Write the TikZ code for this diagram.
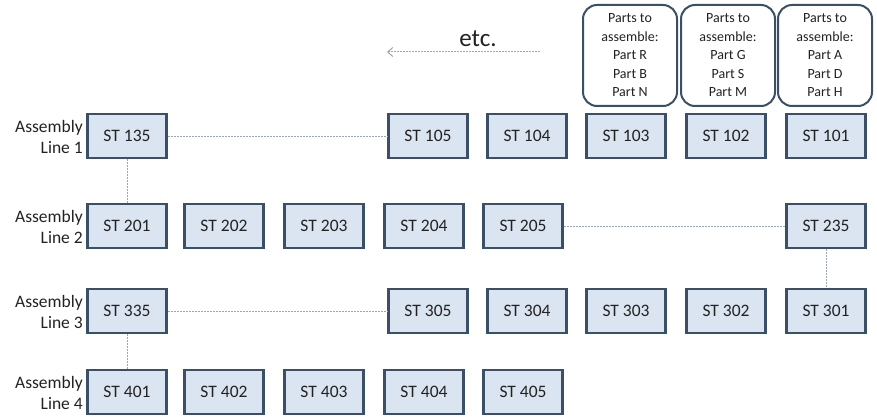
\documentclass[tikz,border=0pt]{standalone}
\usepackage{fontspec}
\setmainfont{Carlito}
\usetikzlibrary{arrows.meta}
\definecolor{boxfill}{HTML}{DBE5F1}
\definecolor{boxdraw}{HTML}{3B4F66}
\definecolor{linkgray}{HTML}{9AA6B6}
\definecolor{txt}{HTML}{222222}
\begin{document}
\begin{tikzpicture}[x=1pt,y=-1pt,
  station/.style={draw=boxdraw, line width=2.8pt, fill=boxfill, minimum width=79pt, minimum height=44pt, inner sep=0pt, font=\fontsize{17.5}{20}\selectfont, text=txt},
  partsbox/.style={draw=boxdraw, line width=2pt, fill=white, rounded corners=14pt, minimum width=94pt, minimum height=101pt, inner sep=0pt, align=center, font=\fontsize{14}{18.5}\selectfont, text=txt},
  linelabel/.style={anchor=east, align=right, inner sep=0pt, font=\fontsize{17.5}{21}\selectfont, text=txt},
  link/.style={draw=linkgray, line width=1pt, dash pattern=on 2pt off 1pt}
]
\useasboundingbox (0,0) rectangle (877,417);
% parts boxes
\node[partsbox] (pr) at (630,55.5) {Parts to\\assemble:\\Part R\\Part B\\Part N};
\node[partsbox] (pg) at (728,55.5) {Parts to\\assemble:\\Part G\\Part S\\Part M};
\node[partsbox] (pa) at (825,55.5) {Parts to\\assemble:\\Part A\\Part D\\Part H};
% etc arrow
\coordinate (etcstart) at (540,52);
\coordinate (etcend) at (387,52);
\draw[link, -{Straight Barb[length=5pt,width=9pt]}] (etcstart) -- (etcend);
\node[font=\fontsize{25}{28}\selectfont, text=txt, anchor=base] (etc) at (478,47) {etc.};
% row 1
\node[station] (s135) at (127,136) {ST 135};
\node[station] (s105) at (428,136) {ST 105};
\node[station] (s104) at (527,136) {ST 104};
\node[station] (s103) at (626,136) {ST 103};
\node[station] (s102) at (726,136) {ST 102};
\node[station] (s101) at (826,136) {ST 101};
% row 2
\node[station] (s201) at (127,226) {ST 201};
\node[station] (s202) at (224,226) {ST 202};
\node[station] (s203) at (324,226) {ST 203};
\node[station] (s204) at (424,226) {ST 204};
\node[station] (s205) at (523,226) {ST 205};
\node[station] (s235) at (826,226) {ST 235};
% row 3
\node[station] (s335) at (127,311) {ST 335};
\node[station] (s305) at (428,311) {ST 305};
\node[station] (s304) at (527,311) {ST 304};
\node[station] (s303) at (626,311) {ST 303};
\node[station] (s302) at (726,311) {ST 302};
\node[station] (s301) at (826,311) {ST 301};
% row 4
\node[station] (s401) at (127,392) {ST 401};
\node[station] (s402) at (224,392) {ST 402};
\node[station] (s403) at (324,392) {ST 403};
\node[station] (s404) at (424,392) {ST 404};
\node[station] (s405) at (523,392) {ST 405};
% labels
\node[linelabel] (l1) at (83,137) {Assembly\\Line 1};
\node[linelabel] (l2) at (83,227) {Assembly\\Line 2};
\node[linelabel] (l3) at (83,312) {Assembly\\Line 3};
\node[linelabel] (l4) at (83,393) {Assembly\\Line 4};
% links
\draw[link] (s135.east) -- (s105.west);
\draw[link] (s135.south) -- (s201.north);
\draw[link] (s205.east) -- (s235.west);
\draw[link] (s235.south) -- (s301.north);
\draw[link] (s335.east) -- (s305.west);
\draw[link] (s335.south) -- (s401.north);
\end{tikzpicture}
\end{document}
